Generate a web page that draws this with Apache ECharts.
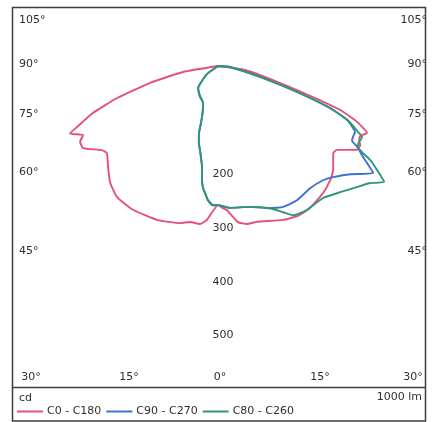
<!DOCTYPE html>
<html>
<head>
<meta charset="utf-8">
<script src="https://cdn.jsdelivr.net/npm/echarts@6/dist/echarts.min.js"></script>
<style>
  html, body { margin: 0; padding: 0; background: #fff; }
  #chart { width: 436px; height: 422px; }
</style>
</head>
<body>
<div id="chart"></div>
<script>
// Luminous intensity distribution (cd per 1000 lm), gamma angle measured from nadir.
// Each C-plane pair: one half on the left (C180 / C270 / C260), one on the right (C0 / C90 / C80).

const gammaC180 = [0, 4.1, 6.5, 10.2, 13.6, 21.6, 30.6, 37.6, 42.7, 47.4, 51.9, 54.1, 58.7, 61.2, 62.9, 65.5, 66.6, 69.4, 72.4, 76.0, 80.3, 90];
const valuesC180 = [259, 287, 296, 295, 301, 308, 311, 308, 296, 278, 263, 267, 294, 293, 282, 303, 286, 249, 197, 131, 66, 0];

const gammaC0 = [0, 2.0, 3.6, 7.3, 10.4, 14.0, 22.9, 27.8, 32.9, 39.6, 44.5, 47.9, 52.9, 54.8, 58.9, 60.9, 62.3, 63.8, 65.8, 68.1, 70.2, 71.9, 74.7, 81.6, 90];
const valuesC0 = [259, 265, 269, 293, 299, 299, 311, 316, 315, 307, 298, 289, 269, 271, 302, 303, 297, 295, 304, 279, 242, 186, 120, 51, 0];

const gammaC270 = [0, 2.1, 4.3, 5.8, 7.1, 8.0, 9.0, 12.1, 13.9, 15.8, 16.6, 17.4, 19.2, 22.1, 31.0, 42.3, 46.8, 54.0, 90];
const valuesC270 = [259, 259, 250, 238, 227, 214, 190, 160, 148, 130, 111, 100, 85, 74, 65, 55, 41, 25, 0];

const gammaC90 = [0, 4.8, 12.8, 20.1, 24.8, 30.5, 37.0, 42.6, 46.0, 50.7, 55.4, 57.9, 59.8, 60.6, 61.1, 62.3, 64.3, 65.3, 67.3, 69.4, 71.8, 75.1, 85.2, 90];
const valuesC90 = [259, 265, 269, 282, 289, 290, 285, 289, 298, 318, 351, 319, 300, 288, 285, 284, 283, 277, 260, 223, 155, 87, 22, 0];

const gammaC260 = [0, 2.1, 4.3, 5.8, 7.1, 8.0, 9.0, 12.1, 13.9, 15.8, 16.6, 17.4, 19.2, 22.1, 31.0, 42.3, 46.8, 54.0, 90];
const valuesC260 = [259, 260, 251, 238, 228, 214, 191, 160, 149, 130, 112, 100, 86, 74, 66, 55, 42, 25, 0];

const gammaC80 = [0, 4.8, 12.8, 20.1, 24.0, 26.7, 31.7, 38.5, 44.1, 48.9, 52.2, 55.1, 56.8, 58.3, 59.0, 59.9, 61.2, 63.8, 64.8, 65.6, 67.3, 69.4, 71.8, 75.1, 85.2, 90];
const valuesC80 = [259, 265, 269, 282, 298, 311, 315, 314, 327, 343, 356, 377, 354, 333, 315, 301, 298, 299, 288, 280, 262, 225, 157, 88, 23, 0];

const seriesNames = ['C0 - C180', 'C90 - C270', 'C80 - C260'];
const seriesColors = ['#e5507a', '#3e6fd4', '#2f9677'];

const sideTickLabels = ['105°', '90°', '75°', '60°', '45°'];
const sideTickAngles = [105, 90, 75, 60, 45];
const bottomTickLabels = ['30°', '15°', '0°', '15°', '30°'];
const radialTickValues = [200, 300, 400, 500];
const unitLabel = 'cd';
const fluxLabel = '1000 lm';

const FONT = '11px "DejaVu Sans", Verdana, sans-serif';
const TEXT_COLOR = '#2e2e2e';

// Joins a left half (drawn at negative angles) and a right half into one curve
function planePair(gLeft, vLeft, gRight, vRight) {
  const pts = [];
  for (let i = gLeft.length - 1; i >= 0; i--) pts.push([vLeft[i], -gLeft[i]]);
  for (let i = 1; i < gRight.length; i++) pts.push([vRight[i], gRight[i]]);
  return pts;
}

const curves = [
  planePair(gammaC180, valuesC180, gammaC0, valuesC0),
  planePair(gammaC270, valuesC270, gammaC90, valuesC90),
  planePair(gammaC260, valuesC260, gammaC80, valuesC80)
];

const chart = echarts.init(document.getElementById('chart'), null, { renderer: 'canvas' });

const CX = 218, CY = 66;

chart.setOption({
  animation: false,
  backgroundColor: '#ffffff',
  polar: { center: [CX, CY], radius: 376 },
  angleAxis: {
    type: 'value', min: -180, max: 180, startAngle: 90, clockwise: false,
    show: false
  },
  radiusAxis: { type: 'value', min: 0, max: 700, show: false },
  legend: {
    data: seriesNames,
    left: 17, top: 406,
    icon: 'rect', itemWidth: 26, itemHeight: 2, itemGap: 5,
    textStyle: { fontSize: 11, fontFamily: '"DejaVu Sans", Verdana, sans-serif', color: TEXT_COLOR, padding: [0, 0, 0, -1] },
    padding: 0
  },
  series: curves.map((pts, i) => ({
    name: seriesNames[i],
    type: 'line',
    coordinateSystem: 'polar',
    data: pts,
    showSymbol: false,
    symbol: 'none',
    smooth: 0.15,
    color: seriesColors[i],
    lineStyle: { width: 1.9, color: seriesColors[i], join: 'round', cap: 'round' },
    z: 2 + i,
    silent: true
  }))
});

// Tick labels placed from the polar scale
const toPx = (r, a) => chart.convertToPixel({ seriesIndex: 0 }, [r, a]);
const pxPerCd = (toPx(100, 0)[1] - toPx(0, 0)[1]) / 100;

function txt(text, x, y, align) {
  return {
    type: 'text', silent: true, z: 10,
    style: {
      text: text, x: x, y: y, font: FONT, fill: TEXT_COLOR,
      align: align, verticalAlign: 'middle',
      textAlign: align, textVerticalAlign: 'middle'
    }
  };
}

const graphics = [];
// frame and legend divider
graphics.push({
  type: 'rect', silent: true, z: 20,
  shape: { x: 12.5, y: 7.5, width: 413, height: 413.5 },
  style: { fill: null, stroke: '#3c3c3c', lineWidth: 1.5 }
});
graphics.push({
  type: 'line', silent: true, z: 20,
  shape: { x1: 12.5, y1: 387.5, x2: 425.5, y2: 387.5 },
  style: { stroke: '#3c3c3c', lineWidth: 1.3 }
});

// angle labels on both sides, where each gamma ray meets a vertical line 187 px from the centre
const sideDist = 187;
sideTickAngles.forEach((g, i) => {
  const r = sideDist / Math.sin(g * Math.PI / 180) / pxPerCd;
  const p = toPx(r, -g);
  const y = Math.max(p[1] - 2, 20);
  graphics.push(txt(sideTickLabels[i], 19, y, 'left'));
  graphics.push(txt(sideTickLabels[i], 427, y, 'right'));
});

// angle labels along the bottom
const bottomX = [31, 129, 220, 320, 413];
bottomTickLabels.forEach((t, i) => graphics.push(txt(t, bottomX[i], 377, 'center')));

// intensity labels along the nadir ray
radialTickValues.forEach(v => {
  const p = toPx(v, 0);
  graphics.push(txt(String(v), p[0] + 5, p[1] + 1, 'center'));
});

graphics.push(txt(unitLabel, 19, 398, 'left'));
graphics.push(txt(fluxLabel, 422, 397, 'right'));

chart.setOption({ graphic: graphics });
</script>
</body>
</html>
